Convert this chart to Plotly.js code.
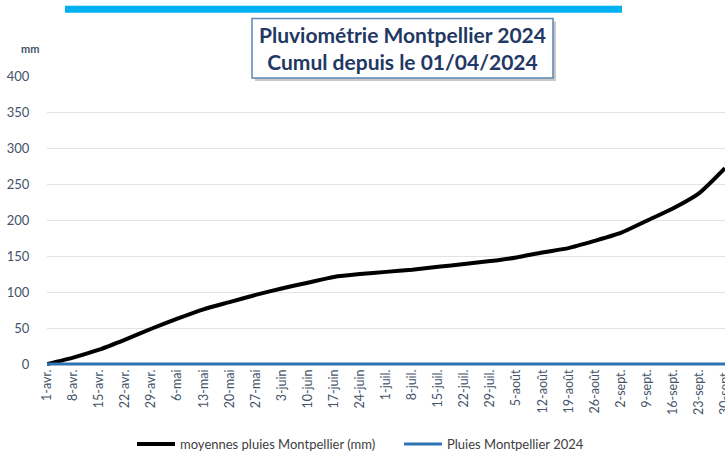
<!DOCTYPE html>
<html>
<head>
<meta charset="utf-8">
<script src="https://cdn.plot.ly/plotly-3.0.1.min.js"></script>
<style>html,body{margin:0;padding:0;overflow:hidden;background:#fff}</style>
</head>
<body>
<div id="chart" style="width:725px;height:459px"></div>
<script>
const weeks = ["1-avr.","8-avr.","15-avr.","22-avr.","29-avr.","6-mai","13-mai","20-mai","27-mai","3-juin","10-juin","17-juin","24-juin","1-juil.","8-juil.","15-juil.","22-juil.","29-juil.","5-août","12-août","19-août","26-août","2-sept.","9-sept.","16-sept.","23-sept.","30-sept."];
const moyennes = [0,9,20,34,49,63,76,86,96,105,113,121,125,128,131,135,139,143,148,155,161,171,182,199,216,237,272];
const pluies2024 = [0,0,0,0,0,0,0,0,0,0,0,0,0,0,0,0,0,0,0,0,0,0,0,0,0,0,0];
const seriesNames = ["moyennes pluies Montpellier (mm)","Pluies Montpellier 2024"];
const yTicks = [0,50,100,150,200,250,300,350,400];

const F = "Lato, 'Open Sans', sans-serif";
const L = 47, T = 76, W = 678, H = 293;
const px = x => (x - L) / W;
const py = y => (T + H - y) / H;

const traces = [
  {x: weeks, y: moyennes, name: seriesNames[0], type: 'scatter', mode: 'lines', cliponaxis: false,
   line: {color: '#000000', width: 4, shape: 'spline', smoothing: 0.6}},
  {x: weeks, y: pluies2024, name: seriesNames[1], type: 'scatter', mode: 'lines', cliponaxis: false,
   line: {color: '#2E75B6', width: 3}}
];

const layout = {
  width: 725, height: 459,
  margin: {l: L, r: 0, t: T, b: 459 - T - H},
  paper_bgcolor: '#ffffff', plot_bgcolor: '#ffffff',
  font: {family: F, color: '#44546A'},
  showlegend: true,
  legend: {orientation: 'h', x: px(132), xanchor: 'left', y: py(448), yanchor: 'middle',
           entrywidth: 214, itemwidth: 38,
           font: {family: F, size: 13, color: '#404040'}, traceorder: 'normal'},
  xaxis: {type: 'category', categoryorder: 'array', categoryarray: weeks,
          range: [0, weeks.length - 1], tickangle: -90, showgrid: false, zeroline: false,
          showline: false, ticks: '', tickfont: {family: F, size: 12.5, color: '#44546A'},
          fixedrange: true},
  yaxis: {range: [-2.7, 400], tickvals: yTicks, ticktext: yTicks.map(String),
          showgrid: true, gridcolor: '#E3E3E3', gridwidth: 1, zeroline: false,
          showline: false, ticks: 'outside', ticklen: 14, tickcolor: 'rgba(0,0,0,0)',
          tickfont: {family: F, size: 13, color: '#44546A'}, fixedrange: true},
  shapes: [
    {type: 'rect', xref: 'paper', yref: 'paper', x0: px(65), x1: px(622), y0: py(12), y1: py(5),
     fillcolor: '#00B0F0', line: {width: 0}, layer: 'above'},
    {type: 'rect', xref: 'paper', yref: 'paper', x0: px(255), x1: px(556), y0: py(81), y1: py(21),
     fillcolor: '#C8C8C8', line: {width: 0}, layer: 'above'},
    {type: 'rect', xref: 'paper', yref: 'paper', x0: px(252), x1: px(553), y0: py(78), y1: py(18),
     fillcolor: '#FFFFFF', line: {color: '#5B87B8', width: 1.5}, layer: 'above'}
  ],
  annotations: [
    {xref: 'paper', yref: 'paper', x: px(402.5), y: py(48), xanchor: 'center', yanchor: 'middle',
     showarrow: false, align: 'center',
     text: '<b>Pluviométrie Montpellier 2024</b><br><b>Cumul depuis le 01/04/2024</b>',
     font: {family: F, size: 21, color: '#1F3864'}},
    {xref: 'paper', yref: 'paper', x: px(30), y: py(48), xanchor: 'center', yanchor: 'middle',
     showarrow: false, text: '<b>mm</b>', font: {family: F, size: 11, color: '#44546A'}}
  ]
};

Plotly.newPlot('chart', traces, layout, {displayModeBar: false, staticPlot: true});
</script>
</body>
</html>
